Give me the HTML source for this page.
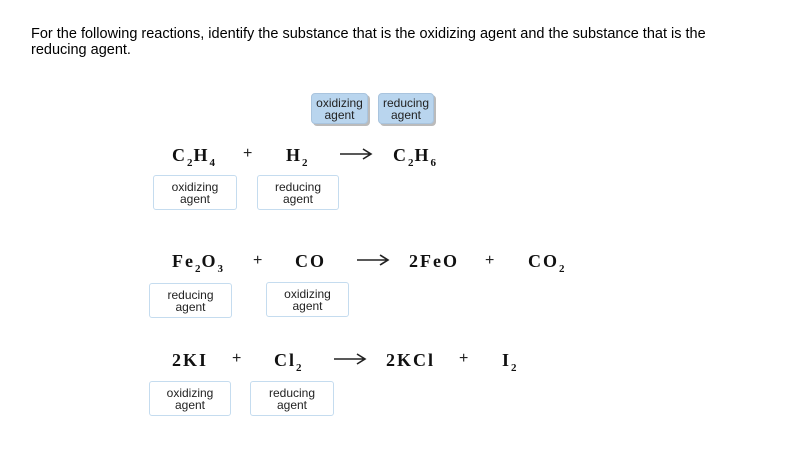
<!DOCTYPE html><html><head><style>
body{margin:0;width:789px;height:472px;background:#fff;position:relative;font-family:"Liberation Sans",sans-serif;overflow:hidden}
.a{position:absolute}
.t{font-size:14.5px;color:#000;line-height:16px;left:31px;top:26px;width:725px}
.b{position:absolute;border:1px solid #c5dcef;border-radius:3px;background:#fff;font-size:12px;line-height:12px;text-align:center;color:#222;box-sizing:border-box;display:flex;align-items:center;justify-content:center}
.bl{position:absolute;background:#b9d5ee;border-radius:4px;box-shadow:2px 2px 0 #bbb;font-size:12px;line-height:12px;text-align:center;color:#222;display:flex;align-items:center;justify-content:center;border:1px solid #a9c4de;box-sizing:border-box}
.f{position:absolute;font-family:"Liberation Serif",serif;font-weight:bold;font-size:18px;color:#111;white-space:nowrap;line-height:20px;letter-spacing:2px}
.f sub{font-size:11px;vertical-align:-5px;line-height:0;letter-spacing:1px}
.p{position:absolute;font-size:16px;color:#222;line-height:20px}
svg.ar{position:absolute;width:34px;height:14px}
</style></head><body>
<div class="a t">For the following reactions, identify the substance that is the oxidizing agent and the substance that is the reducing agent.</div>
<div class="bl" style="left:311px;top:93px;width:57px;height:31px">oxidizing<br>agent</div>
<div class="bl" style="left:378px;top:93px;width:56px;height:31px">reducing<br>agent</div>

<div class="f" style="left:172px;top:145px">C<sub>2</sub>H<sub>4</sub></div>
<div class="p" style="left:243px;top:144px">+</div>
<div class="f" style="left:286px;top:145px">H<sub>2</sub></div>
<svg class="ar" style="left:339px;top:147px"><path d="M1 7H32M24 2L32 7L24 12" stroke="#222" stroke-width="1.6" fill="none"/></svg>
<div class="f" style="left:393px;top:145px">C<sub>2</sub>H<sub>6</sub></div>
<div class="b" style="left:153px;top:175px;width:84px;height:35px">oxidizing<br>agent</div>
<div class="b" style="left:257px;top:175px;width:82px;height:35px">reducing<br>agent</div>

<div class="f" style="left:172px;top:251px">Fe<sub>2</sub>O<sub>3</sub></div>
<div class="p" style="left:253px;top:251px">+</div>
<div class="f" style="left:295px;top:251px">CO</div>
<svg class="ar" style="left:356px;top:253px"><path d="M1 7H32M24 2L32 7L24 12" stroke="#222" stroke-width="1.6" fill="none"/></svg>
<div class="f" style="left:409px;top:251px">2FeO</div>
<div class="p" style="left:485px;top:251px">+</div>
<div class="f" style="left:528px;top:251px">CO<sub>2</sub></div>
<div class="b" style="left:149px;top:283px;width:83px;height:35px">reducing<br>agent</div>
<div class="b" style="left:266px;top:282px;width:83px;height:35px">oxidizing<br>agent</div>

<div class="f" style="left:172px;top:350px">2KI</div>
<div class="p" style="left:232px;top:349px">+</div>
<div class="f" style="left:274px;top:350px">Cl<sub>2</sub></div>
<svg class="ar" style="left:333px;top:352px"><path d="M1 7H32M24 2L32 7L24 12" stroke="#222" stroke-width="1.6" fill="none"/></svg>
<div class="f" style="left:386px;top:350px">2KCl</div>
<div class="p" style="left:459px;top:349px">+</div>
<div class="f" style="left:502px;top:350px">I<sub>2</sub></div>
<div class="b" style="left:149px;top:381px;width:82px;height:35px">oxidizing<br>agent</div>
<div class="b" style="left:250px;top:381px;width:84px;height:35px">reducing<br>agent</div>
</body></html>
